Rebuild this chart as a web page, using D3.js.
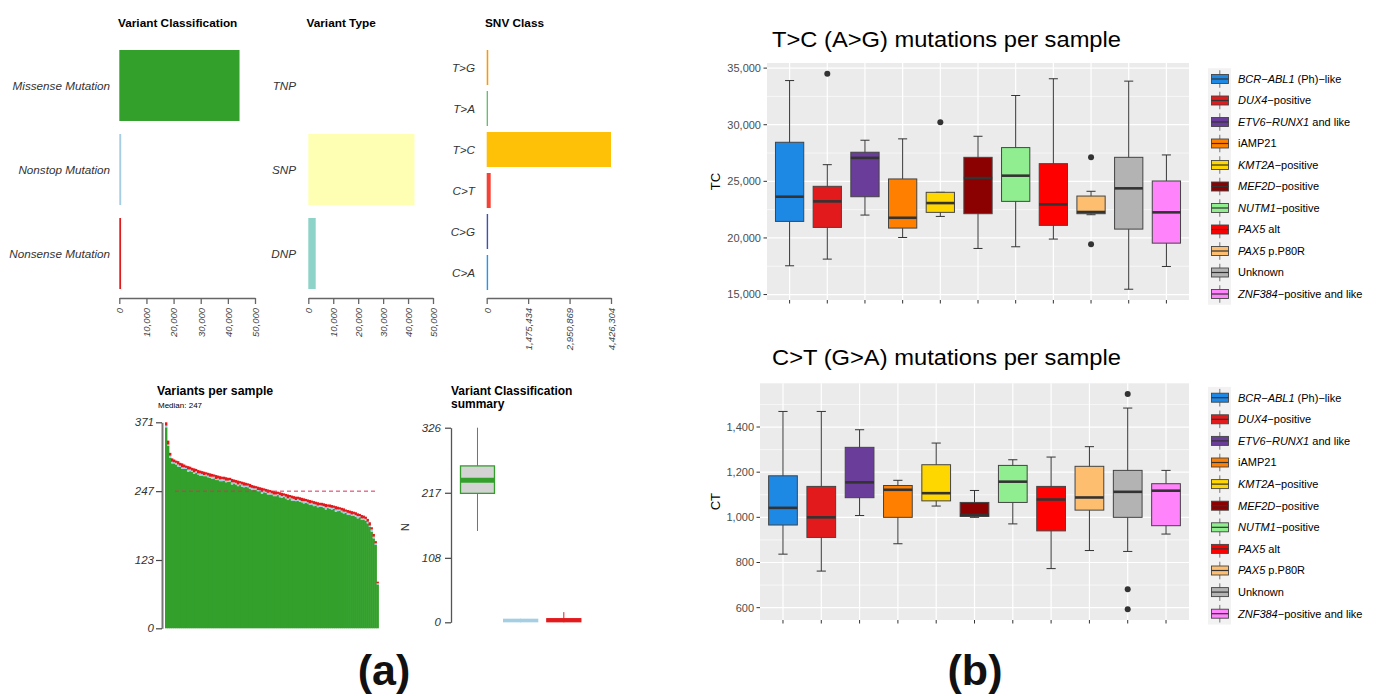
<!DOCTYPE html>
<html>
<head>
<meta charset="utf-8">
<script src="https://cdn.jsdelivr.net/npm/d3@7"></script>
<style>
  body { margin: 0; background: #fff; }
  svg { display: block; font-family: "Liberation Sans", Arial, sans-serif; }
</style>
</head>
<body>
<svg id="fig" width="1379" height="696"></svg>
<script>
// ---- data: panel (a) ----
const vcCats = ['Missense Mutation', 'Nonstop Mutation', 'Nonsense Mutation'];
const vcValues = [44300, 700, 650];
const vcColors = ['#33A02C', '#A6CEE3', '#E31A1C'];

const vtCats = ['TNP', 'SNP', 'DNP'];
const vtValues = [0, 42570, 2970];
const vtColors = ['#BEBADA', '#FFFFB3', '#8DD3C7'];

const snvCats = ['T>G', 'T>A', 'T>C', 'C>T', 'C>G', 'C>A'];
const snvValues = [55000, 40000, 4426304, 142000, 50000, 50000];
const snvColors = ['#FF9800', '#4CAF50', '#FFC107', '#F44336', '#3F51B5', '#2196F3'];
const snvTicks = [0, 1475434, 2950869, 4426304];

// variants per sample (sorted), and the small nonstop / nonsense parts
const sampleTotals = [371,338,316,306,304,302,301,298,297,295,
  293,292,291,289,288,287,285,284,283,282,
  281,280,279,278,277,276,275,274,273,273,
  272,271,271,269,268,267,266,265,264,263,
  262,261,260,258,257,256,255,254,253,252,
  251,250,249,248,247,246,246,245,244,243,
  242,241,240,239,238,237,237,236,235,234,
  233,232,231,230,229,228,227,226,226,225,
  224,223,223,222,221,220,219,218,217,216,
  214,213,212,211,210,209,207,206,204,203,
  201,197,191,182,170,157,84];
const nonsenseCounts = [6,7,5,6,5,4,6,5,7,5, 4,6,5,5,7,4,6,5,5,6,
  4,5,6,5,4,7,5,6,4,5, 6,5,4,6,5,5,7,4,5,6, 5,4,6,5,5,4,6,5,7,4,
  5,6,4,5,6,5,4,5,6,4, 5,7,4,5,5,6,4,5,6,5, 4,5,6,4,5,5,6,4,5,5,
  6,4,5,5,4,6,5,4,5,6, 4,5,5,6,4,5,5,4,6,5, 4,5,6,4,5,4,3];
const nonstopCounts = [3,2,4,3,2,3,4,2,3,3, 2,4,3,2,3,3,2,4,3,2,
  3,3,2,4,3,2,3,3,4,2, 3,2,3,4,2,3,3,2,4,3, 2,3,3,4,2,3,2,3,4,3,
  2,3,4,2,3,3,2,4,3,2, 3,3,2,4,3,2,3,3,2,4, 3,2,3,3,4,2,3,3,2,3,
  4,2,3,3,2,4,3,2,3,3, 2,4,3,2,3,3,4,2,3,2, 3,3,2,4,3,3,2];
const medianVariants = 247;

// variant classification summary: [low, q1, median, q3, high]
const summaryStats = [[153, 216, 238, 262, 326], [0, 1, 2, 5, 6], [0, 1, 3, 6, 17]];

// ---- data: panel (b) ----
const subtypes = ['BCR-ABL1', 'DUX4', 'ETV6-RUNX1', 'iAMP21', 'KMT2A', 'MEF2D',
  'NUTM1', 'PAX5 alt', 'PAX5 P80R', 'Unknown', 'ZNF384'];
const subtypeLabels = [['BCR\u2212ABL1', ' (Ph)\u2212like'], ['DUX4', '\u2212positive'],
  ['ETV6\u2212RUNX1', ' and like'], ['', 'iAMP21'], ['KMT2A', '\u2212positive'],
  ['MEF2D', '\u2212positive'], ['NUTM1', '\u2212positive'], ['PAX5', ' alt'],
  ['PAX5', ' p.P80R'], ['', 'Unknown'], ['ZNF384', '\u2212positive and like']];
const subtypeColors = ['#1E88E5', '#E31A1C', '#6A3D9A', '#FF7F00', '#FFD700', '#8B0000',
  '#90EE90', '#FF0000', '#FDBF6F', '#B3B3B3', '#FF83FA'];

// T>C per sample: [low, q1, median, q3, high]
const tcStats = [
  [17540, 21460, 23640, 28450, 33900],
  [18130, 20930, 23230, 24560, 26470],
  [22020, 23640, 27070, 27570, 28630],
  [20040, 20870, 21780, 25210, 28750],
  [21900, 22260, 23080, 24030, 24030],
  [19070, 22140, 25290, 27120, 28980],
  [19220, 23230, 25500, 27980, 32580],
  [19900, 21110, 22960, 26560, 34060],
  [22050, 22140, 22290, 23700, 24120],
  [15470, 20780, 24380, 27120, 33850],
  [17480, 19540, 22260, 25030, 27330]
];
const tcOutliers = [[], [34500], [], [], [30220], [], [], [], [27120, 19450], [], []];
const tcTicks = [15000, 20000, 25000, 30000, 35000];
const tcMinor = [17500, 22500, 27500, 32500];

// C>T per sample
const ctStats = [
  [837, 966, 1042, 1184, 1469],
  [762, 911, 1000, 1137, 1469],
  [1008, 1087, 1155, 1310, 1388],
  [883, 1000, 1122, 1141, 1164],
  [1050, 1073, 1107, 1233, 1329],
  [1000, 1004, 1011, 1066, 1119],
  [971, 1066, 1158, 1230, 1255],
  [773, 940, 1079, 1137, 1267],
  [853, 1032, 1088, 1226, 1313],
  [849, 1000, 1113, 1208, 1484],
  [926, 963, 1118, 1149, 1208]
];
const ctOutliers = [[], [], [], [], [], [], [], [], [], [1546, 682, 593], []];
const ctTicks = [600, 800, 1000, 1200, 1400];
const ctMinor = [700, 900, 1100, 1300, 1500];

const FONT = '"Liberation Sans", Arial, sans-serif';
const svg = d3.select('#fig');
svg.append('rect').attr('width', 1379).attr('height', 696).attr('fill', '#fff');

// ---------- panel (a): horizontal bar summaries ----------
function hbarPanel(p) {
  const g = svg.append('g');
  const y = d3.scaleBand().domain(p.cats).range([p.y0, p.y1]).paddingInner(p.pad);
  const x = d3.scaleLinear().domain([0, p.max]).range([p.x0, p.x1]);

  g.append('text').attr('x', p.titleX).attr('y', 27)
    .attr('font-weight', 'bold').attr('font-size', 11.8).text(p.title);

  g.selectAll('rect.bar').data(p.vals).join('rect').attr('class', 'bar')
    .attr('x', x(0)).attr('y', (d, i) => y(p.cats[i]))
    .attr('width', d => x(d) - x(0)).attr('height', y.bandwidth())
    .attr('fill', (d, i) => p.colors[i]);

  g.selectAll('text.cat').data(p.cats).join('text').attr('class', 'cat')
    .attr('x', p.labelX).attr('y', d => y(d) + y.bandwidth() / 2).attr('dy', '0.35em')
    .attr('text-anchor', 'end').attr('font-style', 'italic').attr('font-size', 11.7)
    .attr('fill', '#333').text(d => d);

  const ax = g.append('g').attr('transform', `translate(0,${p.axisY})`)
    .call(d3.axisBottom(x).tickValues(p.ticks).tickSize(6).tickSizeOuter(0).tickFormat(d3.format(',')));
  ax.attr('font-family', FONT).attr('font-size', 9.5);
  ax.select('.domain').attr('stroke', '#666').attr('stroke-width', 1.3);
  ax.selectAll('.tick line').attr('stroke', '#666').attr('stroke-width', 1.3);
  ax.selectAll('.tick text').attr('transform', 'rotate(-90)').attr('x', -10).attr('y', 0)
    .attr('dy', '0.35em').attr('text-anchor', 'end').attr('font-style', 'italic').attr('fill', '#444');
}

hbarPanel({ title: 'Variant Classification', titleX: 118, cats: vcCats, vals: vcValues, colors: vcColors,
  y0: 50, y1: 289, pad: 0.155, x0: 119.3, x1: 255, max: 50000, labelX: 110, axisY: 298,
  ticks: [0, 10000, 20000, 30000, 40000, 50000] });
hbarPanel({ title: 'Variant Type', titleX: 306.5, cats: vtCats, vals: vtValues, colors: vtColors,
  y0: 50, y1: 289, pad: 0.155, x0: 308.3, x1: 433, max: 50000, labelX: 296, axisY: 298,
  ticks: [0, 10000, 20000, 30000, 40000, 50000] });
hbarPanel({ title: 'SNV Class', titleX: 485, cats: snvCats, vals: snvValues, colors: snvColors,
  y0: 50, y1: 290, pad: 0.146, x0: 486.7, x1: 611, max: 4426304, labelX: 475, axisY: 298,
  ticks: snvTicks });

// ---------- variants per sample ----------
(function () {
  const g = svg.append('g');
  const y = d3.scaleLinear().domain([0, 371]).range([628.3, 422.3]);
  const x = d3.scaleBand().domain(d3.range(sampleTotals.length)).range([165, 378.5]);
  const rows = sampleTotals.map((t, i) => ({
    Missense: t - (nonstopCounts[i] || 0) - (nonsenseCounts[i] || 0),
    Nonstop: nonstopCounts[i] || 0,
    Nonsense: nonsenseCounts[i] || 0
  }));
  const keys = ['Missense', 'Nonstop', 'Nonsense'];
  const cols = { Missense: '#33A02C', Nonstop: '#A6CEE3', Nonsense: '#E31A1C' };
  const series = d3.stack().keys(keys)(rows);
  g.selectAll('g.layer').data(series).join('g').attr('class', 'layer')
    .attr('fill', d => cols[d.key])
    .selectAll('rect').data(d => d).join('rect')
    .attr('x', (d, i) => x(i)).attr('width', x.bandwidth() + 0.4)
    .attr('y', d => y(d[1])).attr('height', d => y(d[0]) - y(d[1]));

  g.append('line').attr('x1', 175).attr('x2', 377)
    .attr('y1', y(medianVariants)).attr('y2', y(medianVariants))
    .attr('stroke', '#D7305A').attr('stroke-width', 1).attr('stroke-dasharray', '4,3');

  const ax = g.append('g').attr('transform', 'translate(162,0)')
    .call(d3.axisLeft(y).tickValues([0, 123, 247, 371]).tickSize(6).tickSizeOuter(0));
  ax.attr('font-family', FONT).attr('font-size', 11.5);
  ax.select('.domain').attr('stroke', '#777').attr('stroke-width', 2);
  ax.selectAll('.tick line').attr('stroke', '#444').attr('stroke-width', 1.2);
  ax.selectAll('.tick text').attr('x', -8).attr('font-style', 'italic').attr('fill', '#333');

  g.append('text').attr('x', 157).attr('y', 395).attr('font-weight', 'bold')
    .attr('font-size', 12.3).text('Variants per sample');
  g.append('text').attr('x', 158).attr('y', 408).attr('font-size', 8)
    .text('Median: ' + medianVariants);
})();

// ---------- variant classification summary ----------
(function () {
  const g = svg.append('g');
  const y = d3.scaleLinear().domain([0, 326]).range([622.3, 427.7]);
  const x = d3.scaleBand().domain(vcCats).range([460.5, 580.8]).paddingInner(0.213);
  summaryStats.forEach((s, i) => {
    const c = vcColors[i];
    const x0 = x(vcCats[i]), w = x.bandwidth(), cx = x0 + w / 2;
    g.append('line').attr('x1', cx).attr('x2', cx).attr('y1', y(s[4])).attr('y2', y(s[3]))
      .attr('stroke', c).attr('stroke-width', 1);
    g.append('line').attr('x1', cx).attr('x2', cx).attr('y1', y(s[1])).attr('y2', y(s[0]))
      .attr('stroke', c).attr('stroke-width', 1);
    g.append('rect').attr('x', x0).attr('width', w).attr('y', y(s[3]))
      .attr('height', Math.max(y(s[1]) - y(s[3]), 1))
      .attr('fill', i === 0 ? '#D3D3D3' : c).attr('stroke', c).attr('stroke-width', 1.3);
    if (i === 0) {
      g.append('line').attr('x1', x0).attr('x2', x0 + w).attr('y1', y(s[2])).attr('y2', y(s[2]))
        .attr('stroke', c).attr('stroke-width', 5);
    }
  });
  const ax = g.append('g').attr('transform', 'translate(451,0)')
    .call(d3.axisLeft(y).tickValues([0, 108, 217, 326]).tickSize(6).tickSizeOuter(0));
  ax.attr('font-family', FONT).attr('font-size', 11.5);
  ax.select('.domain').attr('stroke', '#555').attr('stroke-width', 1.3);
  ax.selectAll('.tick line').attr('stroke', '#444').attr('stroke-width', 1.2);
  ax.selectAll('.tick text').attr('x', -10).attr('font-style', 'italic').attr('fill', '#333');

  g.append('text').attr('transform', 'translate(409,527) rotate(-90)').attr('text-anchor', 'middle')
    .attr('font-size', 11.5).attr('fill', '#333').text('N');
  g.append('text').attr('x', 451).attr('y', 395).attr('font-weight', 'bold').attr('font-size', 12)
    .text('Variant Classification');
  g.append('text').attr('x', 451).attr('y', 408).attr('font-weight', 'bold').attr('font-size', 12)
    .text('summary');
})();

// ---------- panel (b): ggplot-like boxplots ----------
function ggPanel(p) {
  const g = svg.append('g');
  const all = p.stats.flat().concat(p.outliers.flat());
  const lo = d3.min(all), hi = d3.max(all), pad = (hi - lo) * 0.05;
  const y = d3.scaleLinear().domain([lo - pad, hi + pad]).range([p.bottom, p.top]);
  const x = d3.scalePoint().domain(subtypes).range([p.left, p.right]).padding(0.6);
  const bw = x.step() * 0.75, cw = x.step() * 0.24;

  g.append('rect').attr('x', p.left).attr('y', p.top).attr('width', p.right - p.left)
    .attr('height', p.bottom - p.top).attr('fill', '#EBEBEB');
  g.selectAll('line.minor').data(p.minor).join('line').attr('class', 'minor')
    .attr('x1', p.left).attr('x2', p.right).attr('y1', d => y(d)).attr('y2', d => y(d))
    .attr('stroke', '#fff').attr('stroke-width', 0.6);
  g.selectAll('line.major').data(p.ticks).join('line').attr('class', 'major')
    .attr('x1', p.left).attr('x2', p.right).attr('y1', d => y(d)).attr('y2', d => y(d))
    .attr('stroke', '#fff').attr('stroke-width', 1.2);
  g.selectAll('line.vmajor').data(subtypes).join('line').attr('class', 'vmajor')
    .attr('x1', d => x(d)).attr('x2', d => x(d)).attr('y1', p.top).attr('y2', p.bottom)
    .attr('stroke', '#fff').attr('stroke-width', 1.2);

  subtypes.forEach((s, i) => {
    const st = p.stats[i], cx = x(s);
    const bx = g.append('g');
    bx.append('line').attr('x1', cx).attr('x2', cx).attr('y1', y(st[4])).attr('y2', y(st[0]))
      .attr('stroke', '#333').attr('stroke-width', 1);
    [st[0], st[4]].forEach(v => bx.append('line').attr('x1', cx - cw / 2).attr('x2', cx + cw / 2)
      .attr('y1', y(v)).attr('y2', y(v)).attr('stroke', '#333').attr('stroke-width', 1));
    bx.append('rect').attr('x', cx - bw / 2).attr('width', bw).attr('y', y(st[3]))
      .attr('height', y(st[1]) - y(st[3])).attr('fill', subtypeColors[i])
      .attr('stroke', '#444').attr('stroke-width', 1);
    bx.append('line').attr('x1', cx - bw / 2).attr('x2', cx + bw / 2)
      .attr('y1', y(st[2])).attr('y2', y(st[2])).attr('stroke', '#333').attr('stroke-width', 2.6);
    bx.selectAll('circle').data(p.outliers[i]).join('circle')
      .attr('cx', cx).attr('cy', d => y(d)).attr('r', 3).attr('fill', '#333');
  });

  // axes
  g.selectAll('line.yt').data(p.ticks).join('line').attr('class', 'yt')
    .attr('x1', p.left - 3.5).attr('x2', p.left).attr('y1', d => y(d)).attr('y2', d => y(d))
    .attr('stroke', '#333');
  g.selectAll('text.yl').data(p.ticks).join('text').attr('class', 'yl')
    .attr('x', p.left - 6).attr('y', d => y(d)).attr('dy', '0.35em').attr('text-anchor', 'end')
    .attr('font-size', 11).attr('fill', '#4D4D4D').text(d3.format(','));
  g.selectAll('line.xt').data(subtypes).join('line').attr('class', 'xt')
    .attr('x1', d => x(d)).attr('x2', d => x(d)).attr('y1', p.bottom).attr('y2', p.bottom + 3.5)
    .attr('stroke', '#333');

  g.append('text').attr('transform', `translate(720,${(p.top + p.bottom) / 2}) rotate(-90)`)
    .attr('text-anchor', 'middle').attr('font-size', 13).text(p.ylab);
  g.append('text').attr('x', 772).attr('y', p.titleY).attr('font-size', 22)
    .attr('textLength', 349).attr('lengthAdjust', 'spacingAndGlyphs').text(p.title);

  // legend
  const lg = svg.append('g');
  const step = p.legendStep;
  lg.append('rect').attr('x', 1208).attr('y', p.legendTop - step / 2).attr('width', 23)
    .attr('height', step * subtypes.length).attr('fill', '#F2F2F2');
  subtypes.forEach((s, i) => {
    const cy = p.legendTop + i * step;
    lg.append('line').attr('x1', 1219.8).attr('x2', 1219.8)
      .attr('y1', cy - step / 2 + 2).attr('y2', cy + step / 2 - 2).attr('stroke', '#555').attr('stroke-width', 0.8);
    lg.append('rect').attr('x', 1211.5).attr('y', cy - 4.5).attr('width', 17).attr('height', 9)
      .attr('fill', subtypeColors[i]).attr('stroke', '#444').attr('stroke-width', 0.9);
    lg.append('line').attr('x1', 1211.5).attr('x2', 1228.5).attr('y1', cy).attr('y2', cy)
      .attr('stroke', '#333').attr('stroke-width', 1.2);
    const t = lg.append('text').attr('x', 1238).attr('y', cy).attr('dy', '0.35em').attr('font-size', 11);
    if (subtypeLabels[i][0]) t.append('tspan').attr('font-style', 'italic').text(subtypeLabels[i][0]);
    t.append('tspan').text(subtypeLabels[i][1]);
  });
}

ggPanel({ stats: tcStats, outliers: tcOutliers, ticks: tcTicks, minor: tcMinor,
  left: 767, right: 1189, top: 63, bottom: 300, ylab: 'TC',
  title: 'T>C (A>G) mutations per sample', titleY: 47, legendTop: 79, legendStep: 21.5 });
ggPanel({ stats: ctStats, outliers: ctOutliers, ticks: ctTicks, minor: ctMinor,
  left: 760, right: 1189, top: 383.3, bottom: 620, ylab: 'CT',
  title: 'C>T (G>A) mutations per sample', titleY: 365, legendTop: 397.7, legendStep: 21.6 });

// panel letters
svg.append('text').attr('x', 384).attr('y', 685).attr('text-anchor', 'middle')
  .attr('font-size', 43).attr('font-weight', 'bold').attr('fill', '#111').text('(a)');
svg.append('text').attr('x', 975).attr('y', 685).attr('text-anchor', 'middle')
  .attr('font-size', 43).attr('font-weight', 'bold').attr('fill', '#111').text('(b)');
</script>
</body>
</html>
